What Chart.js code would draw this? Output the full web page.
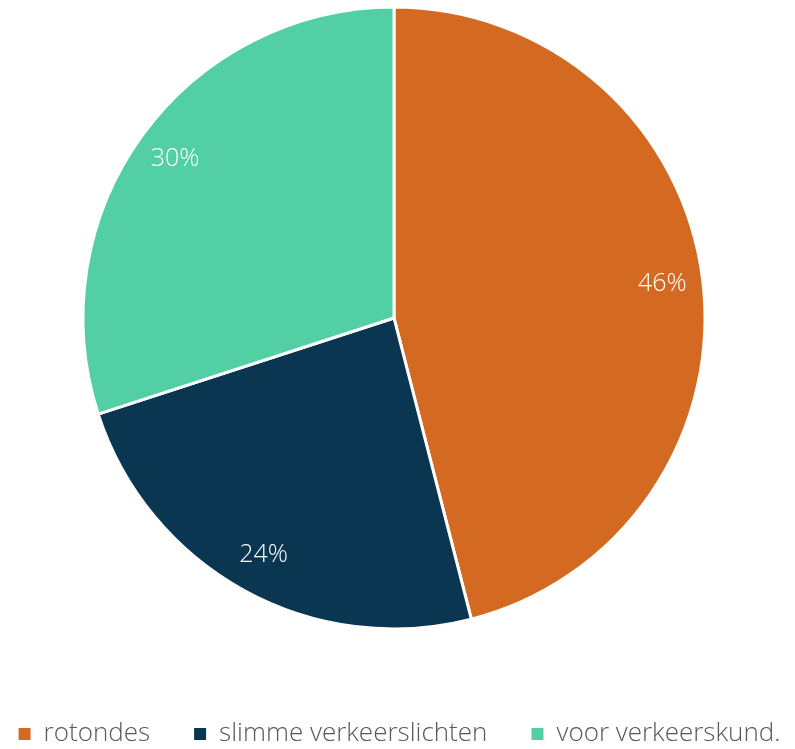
<!DOCTYPE html>
<html>
<head>
<meta charset="utf-8">
<script src="https://cdn.jsdelivr.net/npm/chart.js@4"></script>
<style>
  html, body { margin: 0; padding: 0; background: #ffffff; }
  #wrap { width: 788px; height: 749px; }
</style>
</head>
<body>
<div id="wrap"><canvas id="pieChart"></canvas></div>
<script>
// Chart data
const categories = ['rotondes', 'slimme verkeerslichten', 'voor verkeerskund.'];
const shares = [46, 24, 30];
const sliceColors = ['#D46A21', '#0A3651', '#53CFA5'];

// Draw the percentage labels inside each slice
const sliceLabels = {
  id: 'sliceLabels',
  afterDatasetsDraw(chart) {
    const ctx = chart.ctx;
    const meta = chart.getDatasetMeta(0);
    ctx.save();
    ctx.fillStyle = '#ffffff';
    ctx.font = '300 25px "Open Sans", sans-serif';
    ctx.textAlign = 'center';
    ctx.textBaseline = 'middle';
    meta.data.forEach((arc, i) => {
      const mid = (arc.startAngle + arc.endAngle) / 2;
      const r = arc.outerRadius * 0.87;
      ctx.fillText(shares[i] + '%', arc.x + Math.cos(mid) * r, arc.y + Math.sin(mid) * r);
    });
    ctx.restore();
  }
};

// Legend squares without the white slice border
function legendLabels(chart) {
  const items = Chart.overrides.pie.plugins.legend.labels.generateLabels(chart);
  return items.map(item => Object.assign(item, { lineWidth: 0 }));
}

new Chart(document.getElementById('pieChart'), {
  type: 'pie',
  data: {
    labels: categories,
    datasets: [{
      data: shares,
      backgroundColor: sliceColors,
      borderColor: '#ffffff',
      borderWidth: 3,
      radius: 311
    }]
  },
  options: {
    responsive: true,
    maintainAspectRatio: false,
    animation: false,
    layout: {
      // legend needs more than the canvas width to stay on one row
      padding: { top: 0, bottom: -8, left: -40, right: -51 }
    },
    plugins: {
      legend: {
        position: 'bottom',
        title: {
          display: true,
          text: '',
          font: { size: 10, lineHeight: 1 },
          padding: { top: 31, bottom: 0 }
        },
        labels: {
          boxWidth: 12,
          boxHeight: 12,
          padding: 44,
          color: '#595959',
          font: { family: '"Open Sans", sans-serif', size: 26, weight: '300' },
          generateLabels: legendLabels
        }
      },
      tooltip: { enabled: false }
    }
  },
  plugins: [sliceLabels]
});
</script>
</body>
</html>
